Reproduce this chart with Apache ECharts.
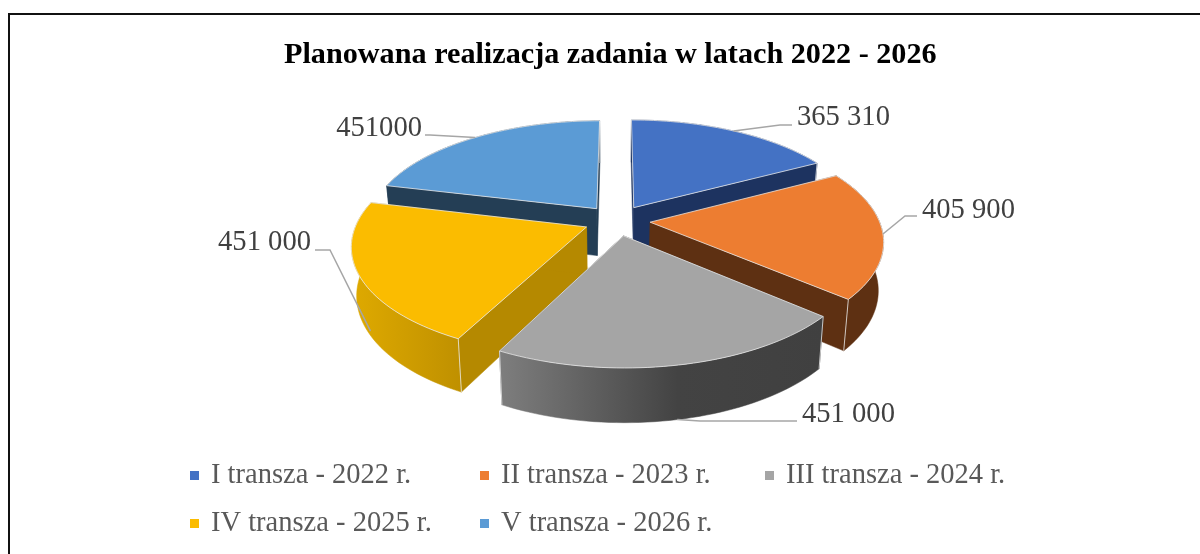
<!DOCTYPE html>
<html>
<head>
<meta charset="utf-8">
<style>
  html, body { margin: 0; padding: 0; background: #fff; }
  #chart { width: 1200px; height: 554px; }
</style>
</head>
<body>
<div id="chart"></div>
<script src="https://cdn.jsdelivr.net/npm/echarts@6/dist/echarts.min.js"></script>
<script>
const titleText = 'Planowana realizacja zadania w latach 2022 - 2026'
const categories = ['I transza - 2022 r.', 'II transza - 2023 r.', 'III transza - 2024 r.', 'IV transza - 2025 r.', 'V transza - 2026 r.']
const sliceValues = [365310, 405900, 451000, 451000, 451000]
const valueLabels = ['365 310', '405 900', '451 000', '451 000', '451000']
const topColors = ['#4472c4', '#ed7d31', '#a5a5a5', '#fbbc00', '#5b9bd5']
const wallColors = ['#1d3360', '#5e3012', '#4a4a4a', '#b58900', '#243e55']
const rimStops = [
  [[0, '#1d3360'], [1, '#1d3360']],
  [[0, '#5e3012'], [1, '#5e3012']],
  [[0, '#7e7e7e'], [0.55, '#434343'], [1, '#404040']],
  [[0, '#dfaa00'], [1, '#bf9000']],
  [[0, '#243e55'], [1, '#243e55']]
]
// back slices first, so the front ones cover them
const drawOrder = [4, 0, 3, 1, 2]

// projection of the tilted pie
const cx = 617
const cy = 220.5
const rx = 229
const ry = 105.5
const persp = 0.16
const depth = 47.5
const taper = 0.02
const explode = 0.145

// leader line: where it leaves the slice, elbow, end and the label anchor
const leaders = [
  { at: 0.5, h: 0, mid: [780, 125], end: [792, 125], text: [797, 117], align: 'left' },
  { at: 0.5, h: 0, mid: [905, 216], end: [917, 216], text: [922, 210], align: 'left' },
  { at: 0.5, h: 1, mid: [700, 421], end: [797, 421], text: [802, 414], align: 'left' },
  { at: 0.43, h: 0.9, mid: [330, 250], end: [315, 250], text: [311, 242], align: 'right' },
  { at: 0.5, h: 0, mid: [430, 135], end: [425, 135], text: [422, 128], align: 'right' }
]

const total = sliceValues.reduce((a, b) => a + b, 0)

function project(X, Y, H) {
  const w = 1 / (1 + persp * Y)
  return [cx + X * rx * w * (1 - taper * H), cy - Y * ry * w + H * depth * Math.pow(w, 0.7)]
}

function sliceAngles(i) {
  let before = 0
  for (let k = 0; k < i; k++) before += sliceValues[k]
  const a0 = before / total * Math.PI * 2
  const a1 = (before + sliceValues[i]) / total * Math.PI * 2
  return [a0, a1]
}

function renderSlice(params) {
  const i = drawOrder[params.seriesIndex]
  const [a0, a1] = sliceAngles(i)
  const mid = (a0 + a1) / 2
  const ex = explode * Math.sin(mid)
  const ey = explode * Math.cos(mid)
  const rim = (a, h) => project(ex + Math.sin(a), ey + Math.cos(a), h)
  const tip = h => project(ex, ey, h)

  const topArc = []
  const bottomArc = []
  const steps = 48
  for (let s = 0; s <= steps; s++) {
    const a = a0 + (a1 - a0) * s / steps
    topArc.push(rim(a, 0))
    bottomArc.unshift(rim(a, 1))
  }
  const edge = { stroke: '#e8e8e8', lineWidth: 0.8 }
  const poly = (points, fill, stroke) => ({
    type: 'polygon',
    shape: { points },
    style: Object.assign({ fill }, stroke ? edge : { stroke: fill, lineWidth: 0.5 })
  })

  const l = leaders[i]
  return {
    type: 'group',
    children: [
      poly([tip(0), rim(a0, 0), rim(a0, 1), tip(1)], wallColors[i]),
      poly([tip(0), rim(a1, 0), rim(a1, 1), tip(1)], wallColors[i]),
      poly(topArc.concat(bottomArc), new echarts.graphic.LinearGradient(0, 0, 1, 0, rimStops[i].map(s => ({ offset: s[0], color: s[1] })))),
      {
        type: 'line',
        shape: { x1: rim(a1, 0)[0], y1: rim(a1, 0)[1], x2: rim(a1, 1)[0], y2: rim(a1, 1)[1] },
        style: edge
      },
      {
        type: 'line',
        shape: { x1: rim(a0, 0)[0], y1: rim(a0, 0)[1], x2: rim(a0, 1)[0], y2: rim(a0, 1)[1] },
        style: { stroke: i === 2 || i === 3 ? '#e8e8e8' : 'transparent', lineWidth: 0.8 }
      },
      poly([tip(0)].concat(topArc), topColors[i], true),
      {
        type: 'polyline',
        shape: { points: [rim(a0 + (a1 - a0) * l.at, l.h), l.mid, l.end] },
        style: { fill: 'none', stroke: '#a6a6a6', lineWidth: 1.5 }
      },
      {
        type: 'text',
        style: {
          text: valueLabels[i],
          x: l.text[0],
          y: l.text[1],
          align: l.align,
          verticalAlign: 'middle',
          fill: '#404040',
          font: '28.6px "Liberation Serif"'
        }
      }
    ]
  }
}

const legendBase = {
  orient: 'vertical',
  top: 456,
  icon: 'rect',
  itemWidth: 9,
  itemHeight: 9,
  itemGap: 19,
  selectedMode: false,
  textStyle: { fontFamily: 'Liberation Serif', fontSize: 28.5, color: '#595959', padding: [0, 0, 0, 7] }
}

const chart = echarts.init(document.getElementById('chart'))
chart.setOption({
  animation: false,
  backgroundColor: '#fff',
  title: {
    text: titleText,
    left: 279,
    top: 35,
    textStyle: { fontFamily: 'Liberation Serif', fontSize: 30.2, fontWeight: 'bold', color: '#000' }
  },
  legend: [
    Object.assign({}, legendBase, { left: 185, data: [categories[0], categories[3]] }),
    Object.assign({}, legendBase, { left: 475, data: [categories[1], categories[4]] }),
    Object.assign({}, legendBase, { left: 760, data: [categories[2]] })
  ],
  graphic: [{
    type: 'polyline',
    shape: { points: [[9, 554], [9, 14], [1200, 14]] },
    style: { fill: 'none', stroke: '#111', lineWidth: 2 }
  }],
  series: drawOrder.map(i => ({
    type: 'custom',
    name: categories[i],
    coordinateSystem: 'none',
    itemStyle: { color: topColors[i] },
    renderItem: renderSlice,
    data: [sliceValues[i]]
  }))
})
</script>
</body>
</html>
